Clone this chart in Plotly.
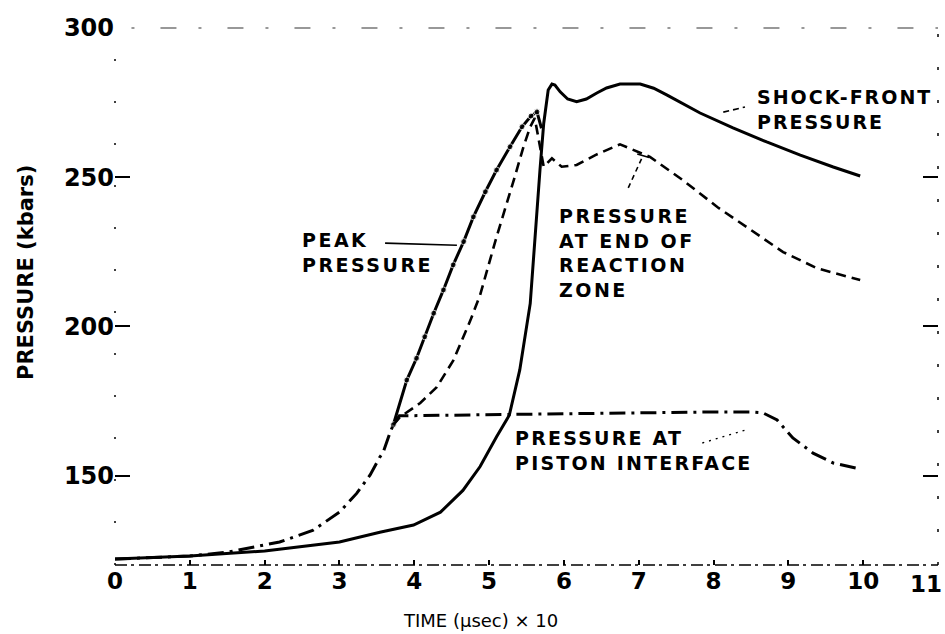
import plotly.graph_objects as go

# ---------------- data ----------------
time_ticks = list(range(0, 12))
time_labels = [str(v) for v in time_ticks[:-1]] + [""]   # "11" is placed separately at the edge
pressure_ticks = [150, 200, 250, 300]

# Shock-front pressure (solid)
shock_t = [0, 1, 2, 3, 3.54, 3.99, 4.35, 4.65, 4.88, 5.1, 5.27, 5.41, 5.55, 5.61, 5.68,
           5.73, 5.79, 5.84, 5.88, 5.95, 6.05, 6.17, 6.3, 6.44, 6.57, 6.75, 7.02, 7.2,
           7.38, 7.82, 8.26, 8.71, 9.16, 9.6, 9.96]
shock_p = [122, 123, 124.7, 127.7, 131, 133.4, 137.7, 145, 153, 163, 170.2, 185.4, 207.7, 230, 252.4,
           268, 279.2, 281.2, 280.9, 278.6, 276.2, 275.3, 276.2, 278.2, 279.9, 281.2, 281.2, 279.8,
           277.5, 271.5, 266.5, 261.8, 257.4, 253.4, 250.4]

# Peak pressure (solid with dots)
peak_t = [3.72, 3.9, 4.03, 4.14, 4.26, 4.39, 4.52, 4.66, 4.79, 4.95, 5.1, 5.28, 5.44, 5.56, 5.64, 5.70]
peak_p = [167, 182, 189.3, 196.5, 204.4, 212.2, 220.6, 228.4, 236.7, 245.1, 252.4, 260.2, 266.9, 270.5, 271.9, 266.4]

# Pressure at end of reaction zone (dashed)
react_t = [3.72, 3.81, 4.08, 4.3, 4.52, 4.75, 4.88, 5.1, 5.33, 5.46, 5.55, 5.61, 5.73, 5.84,
           5.97, 6.17, 6.42, 6.75, 7.15, 7.59, 8.05, 8.49, 8.93, 9.38, 9.96]
react_p = [167, 169.6, 174.3, 179.6, 188.5, 202, 210.5, 230, 249, 260.2, 266.9, 269.8, 253.5, 256.3,
           253.5, 254.1, 257.4, 261, 256.8, 249, 240, 232.3, 224.9, 219.5, 215.5]

# Pressure at piston interface (dash-dot)
pist_t = [0, 1, 1.5, 1.98, 2.2, 2.65, 3.0, 3.23, 3.41, 3.54, 3.58, 3.68, 3.72, 3.8, 5, 6, 7, 8,
          8.5, 8.66, 8.85, 9.06, 9.33, 9.6, 9.96]
pist_p = [122, 123, 124.3, 126.7, 127.7, 131.7, 137.7, 144, 150.2, 156.2, 157.5, 164.6, 167, 170,
          170.3, 170.6, 171, 171.3, 171.3, 171, 168.6, 162.6, 157.5, 154.2, 152.2]

# ---------------- figure ----------------
INK = "black"
LBL_FONT = dict(family="DejaVu Sans", size=19, color=INK, weight="bold")
TICK_FONT = dict(family="DejaVu Sans", size=23, color=INK, weight="bold")


def spaced(lines, sp=2.5):
    return "<br>".join(f'<span style="letter-spacing:{sp}px">{ln}</span>' for ln in lines)


peak_marker_sizes = [6] * (len(peak_t) - 1) + [0]

fig = go.Figure()
fig.add_trace(go.Scatter(x=shock_t, y=shock_p, mode="lines",
                         line=dict(color=INK, width=3), hoverinfo="skip"))
fig.add_trace(go.Scatter(x=peak_t, y=peak_p, mode="lines+markers",
                         line=dict(color=INK, width=3),
                         marker=dict(size=peak_marker_sizes, color=INK), hoverinfo="skip"))
fig.add_trace(go.Scatter(x=react_t, y=react_p, mode="lines",
                         line=dict(color=INK, width=2.6, dash="10px,6px"), hoverinfo="skip"))
fig.add_trace(go.Scatter(x=pist_t, y=pist_p, mode="lines",
                         line=dict(color=INK, width=3, dash="16px,6px,3px,6px"), hoverinfo="skip"))

# label texts
fig.add_annotation(x=2.47, y=224.7, xref="x", yref="y", xanchor="left", yanchor="middle",
                   align="left", showarrow=False, font=LBL_FONT,
                   text=spaced(["PEAK", "PRESSURE"]))
fig.add_annotation(x=5.91, y=224.7, xref="x", yref="y", xanchor="left", yanchor="middle",
                   align="left", showarrow=False, font=LBL_FONT,
                   text=spaced(["PRESSURE", "AT END OF", "REACTION", "ZONE"]))
fig.add_annotation(x=8.56, y=272.8, xref="x", yref="y", xanchor="left", yanchor="middle",
                   align="left", showarrow=False, font=LBL_FONT,
                   text=spaced(["SHOCK-FRONT", "PRESSURE"], 2.0))
fig.add_annotation(x=5.32, y=158.5, xref="x", yref="y", xanchor="left", yanchor="middle",
                   align="left", showarrow=False, font=LBL_FONT,
                   text=spaced(["PRESSURE AT", "PISTON INTERFACE"], 2.2))

# last x tick label, kept inside the page edge
fig.add_annotation(x=1.0075, y=0, xref="paper", yref="paper", xanchor="right", yanchor="top",
                   yshift=-4, showarrow=False, font=TICK_FONT, text=str(time_ticks[-1]))

# leader lines
fig.add_shape(type="line", xref="x", yref="y", x0=3.61, y0=227.9, x1=4.57, y1=227.2,
              line=dict(color=INK, width=1.6))
fig.add_shape(type="line", xref="x", yref="y", x0=6.86, y0=246.4, x1=7.06, y1=257.4,
              line=dict(color=INK, width=1.6, dash="5px,4px"))
fig.add_shape(type="line", xref="x", yref="y", x0=6.98, y0=257.8, x1=7.14, y1=256.6,
              line=dict(color=INK, width=1.6))
fig.add_shape(type="line", xref="x", yref="y", x0=8.13, y0=271.8, x1=8.42, y1=273.5,
              line=dict(color=INK, width=1.6, dash="6px,4px"))
fig.add_shape(type="line", xref="x", yref="y", x0=7.85, y0=160.9, x1=8.42, y1=165.2,
              line=dict(color=INK, width=1.4, dash="2px,5px"))

# broken frame (faint print)
fig.add_shape(type="line", xref="paper", yref="paper", x0=0.02, y0=1, x1=1, y1=1,
              line=dict(color="#333333", width=1.2, dash="3px,26px,16px,22px"))
fig.add_shape(type="line", xref="paper", yref="paper", x0=0, y0=0, x1=1, y1=0,
              line=dict(color=INK, width=1.5, dash="12px,4px,3px,5px"))
fig.add_shape(type="line", xref="paper", yref="paper", x0=0, y0=0, x1=0, y1=1,
              line=dict(color=INK, width=1.5, dash="2px,40px"))
fig.add_shape(type="line", xref="paper", yref="paper", x0=1, y0=0, x1=1, y1=1,
              line=dict(color=INK, width=1.5, dash="3px,30px"))

# axis titles
fig.add_annotation(x=-0.108, y=0.544, xref="paper", yref="paper", textangle=-90,
                   showarrow=False, xanchor="center", yanchor="middle",
                   font=dict(family="DejaVu Sans", size=21, color=INK, weight="bold"),
                   text="PRESSURE (kbars)")
fig.add_annotation(x=0.4435, y=-0.104, xref="paper", yref="paper",
                   showarrow=False, xanchor="center", yanchor="middle",
                   font=dict(family="DejaVu Sans", size=18, color=INK),
                   text="TIME (μsec) × 10")

fig.update_layout(
    template="none",
    width=945, height=634,
    margin=dict(l=115, r=7, t=28, b=69),
    paper_bgcolor="white", plot_bgcolor="white",
    showlegend=False,
    xaxis=dict(range=[0, 11], tickvals=time_ticks, ticktext=time_labels,
               showgrid=False, zeroline=False,
               showline=False, ticks="inside", ticklen=5, tickwidth=1.5, tickcolor=INK,
               tickfont=TICK_FONT, automargin=False),
    yaxis=dict(range=[120, 300], tickvals=pressure_ticks, showgrid=False, zeroline=False,
               showline=False, ticks="inside", ticklen=15, tickwidth=1.5, tickcolor=INK,
               mirror="ticks",
               tickfont=dict(family="DejaVu Sans", size=24, color=INK, weight="bold"),
               automargin=False),
)

fig.write_html("out.html", config={"displayModeBar": False},
               post_script="document.body.style.margin='0';document.body.style.overflow='hidden';")
